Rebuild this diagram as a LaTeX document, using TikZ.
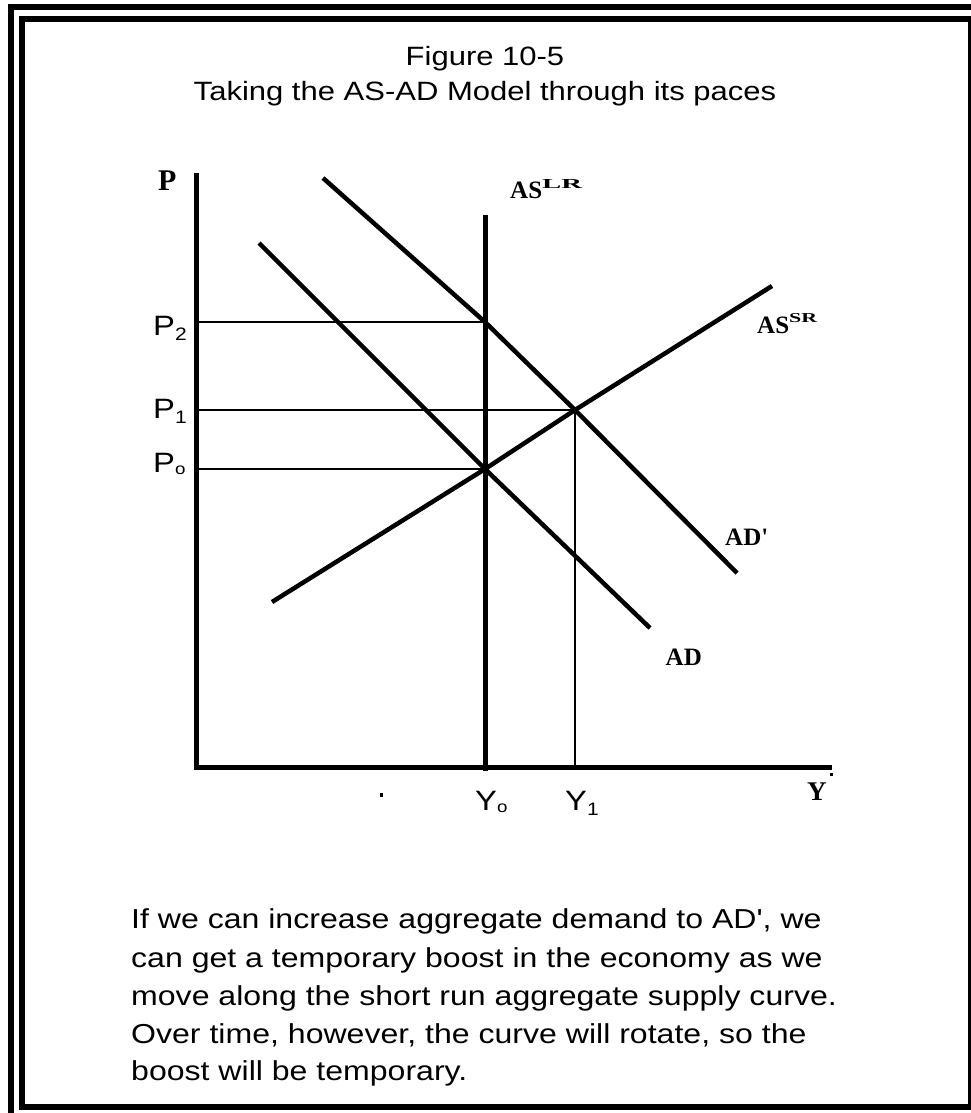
\documentclass[tikz,border=0pt]{standalone}
\usepackage{fontspec}
\usepackage{graphicx}
\newfontfamily\sansf{Liberation Sans}[FakeStretch=1.17]
\newfontfamily\seriff{Liberation Serif}
\begin{document}
\begin{tikzpicture}[x=1pt,y=-1pt,
  frame/.style={line width=6pt},
  axis/.style={line width=5pt},
  curve/.style={line width=4.5pt},
  guide/.style={line width=1.3pt},
  slbl/.style={inner sep=0pt, anchor=base west, font=\seriff\bfseries\fontsize{25}{25}\selectfont},
  plbl/.style={inner sep=0pt, anchor=base west, font=\sansf\fontsize{28}{28}\selectfont},
  title/.style={inner sep=0pt, anchor=base, font=\sansf\fontsize{26.5}{30}\selectfont},
  body/.style={inner sep=0pt, anchor=base west, font=\sansf\fontsize{27.4}{30}\selectfont},
  speck/.style={fill=black},
]
\useasboundingbox (0,0) rectangle (970,1113);
\fill[white] (0,0) rectangle (970,1113);
% frames
\draw[frame] (11,1120) -- (11,7) -- (980,7);
\draw[frame] (22,19) rectangle (970.5,1107);
% title
\node[title] (t1) at (485,66) {Figure 10-5};
\node[title] (t2) at (485,101) {Taking the AS-AD Model through its paces};
% key points
\coordinate (O) at (196,767);
\coordinate (Ytop) at (196,173);
\coordinate (Xend) at (832,767);
\coordinate (E0) at (485,469);
\coordinate (E1) at (575,410);
\coordinate (E2) at (485,322);
\coordinate (LRtop) at (485.5,215);
\coordinate (LRbot) at (485.5,771);
\coordinate (Y1bot) at (575,767);
\coordinate (P2ax) at (196,322);
\coordinate (P1ax) at (196,410);
\coordinate (P0ax) at (196,469);
\coordinate (ADa) at (259,243);
\coordinate (ADb) at (650,628);
\coordinate (ADpa) at (323,178);
\coordinate (ADpb) at (737,573);
\coordinate (SRa) at (272,602);
\coordinate (SRb) at (772,286);
% guides
\draw[guide] (P2ax) -- (E2);
\draw[guide] (P1ax) -- (E1);
\draw[guide] (P0ax) -- (E0);
\draw[guide] (E1) -- (Y1bot);
% axes
\draw[axis] (Ytop) -- (O) -- (Xend);
% curves
\draw[curve] (LRtop) -- (LRbot);
\draw[curve] (ADa) -- (E0) -- (ADb);
\draw[curve] (ADpa) -- (E2) -- (E1) -- (ADpb);
\draw[curve] (SRa) -- (E0) -- (E1) -- (SRb);
% specks
\fill[speck] (380,793) rectangle (383,797);
\fill[speck] (829.5,772.5) rectangle (832.5,775.5);
% labels
\node[slbl, font=\seriff\bfseries\fontsize{30}{30}\selectfont] (lP) at (158,190) {P};
\node[slbl] (lLR) at (510,198) {AS\raisebox{10pt}{\resizebox{40pt}{9pt}{\seriff\bfseries LR}}};
\node[slbl] (lSR) at (757,333) {AS\raisebox{11pt}{\resizebox{28pt}{9pt}{\seriff\bfseries SR}}};
\node[slbl] (lADp) at (725,545) {AD'};
\node[slbl, anchor=base east] (lAD) at (702,665) {AD};
\node[slbl, font=\seriff\bfseries\fontsize{27}{27}\selectfont] (lY) at (807,800) {Y};
\node[plbl] (lP2) at (153,335) {P\raisebox{-5pt}{\fontsize{18}{18}\selectfont 2}};
\node[plbl] (lP1) at (153,418) {P\raisebox{-5pt}{\fontsize{18}{18}\selectfont 1}};
\node[plbl] (lP0) at (153,472) {P\raisebox{-2pt}{\fontsize{16}{16}\selectfont o}};
\node[plbl] (lY0) at (475,810) {Y\raisebox{-2pt}{\fontsize{16}{16}\selectfont o}};
\node[plbl] (lY1) at (565,810) {Y\raisebox{-5pt}{\fontsize{18}{18}\selectfont 1}};
% paragraph
\node[body] (b1) at (131,928) {If we can increase aggregate demand to AD', we};
\node[body] (b2) at (131,967) {can get a temporary boost in the economy as we};
\node[body] (b3) at (131,1005) {move along the short run aggregate supply curve.};
\node[body] (b4) at (131,1043) {Over time, however, the curve will rotate, so the};
\node[body] (b5) at (131,1080) {boost will be temporary.};
\end{tikzpicture}
\end{document}
